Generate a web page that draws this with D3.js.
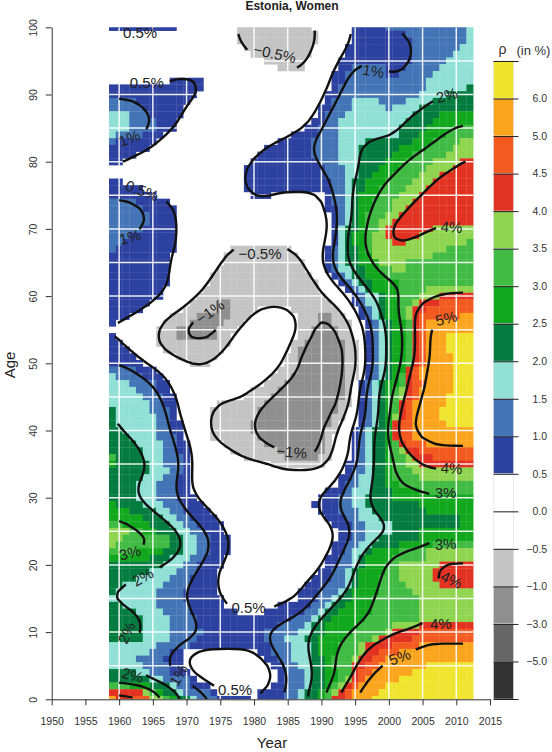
<!DOCTYPE html>
<html>
<head>
<meta charset="utf-8">
<script src="https://cdn.jsdelivr.net/npm/d3@7"></script>
<style>
  html, body { margin: 0; padding: 0; background: #fff; }
  svg { display: block; font-family: "Liberation Sans", Arial, sans-serif; }
</style>
</head>
<body>
<svg id="chart" width="552" height="752"></svg>
<script>
// band codes, lowest to highest, and their legend colours
var bandCodes = ["o", "n", "m", "l", ".", ",", "a", "b", "c", "d", "e", "f", "g", "h", "i", "j", "k"];
var bandColors = ["#333333", "#666666", "#8f8f8f", "#c4c4c4", "#ffffff", "#ffffff", "#2d41a1", "#4374b6", "#90e0d6",
                  "#057c3f", "#12a81d", "#41bb44", "#8fd550", "#e23322", "#f25a20", "#fba51e", "#efe42e"];
var legendTicks = ["−5.0", "−3.0", "−1.0", "−0.5", "0.0", "0.5", "1.0", "1.5", "2.0", "2.5", "3.0", "3.5", "4.0", "4.5", "5.0", "6.0"];

var xTicks = [1950, 1955, 1960, 1965, 1970, 1975, 1980, 1985, 1990, 1995, 2000, 2005, 2010, 2015];
var yTicks = [0, 10, 20, 30, 40, 50, 60, 70, 80, 90, 100];
var firstYear = 1959, lastYear = 2012;

// one row per age, 100 down to 0. each token is band + last year of that run (59..99, 00..12)
var bandsByAge = [
  "a68 .77 l88 .94 a99 b11 c12",
  ".77 l89 .94 a02 b11 c12",
  ".77 l89 .94 a03 b11 c12",
  ".78 l88 .93 a03 b10 c12",
  ".79 l88 .93 a03 b09 c12",
  ".81 l87 .92 a03 b08 c12",
  ".83 l87 .92 a94 b99 a02 b07 c12",
  ".91 a93 b99 a01 b06 c12",
  ".67 a72 .91 a93 b05 c12",
  "a72 .91 a92 b05 c11 d12",
  "a71 .90 a92 b04 c08 d12",
  "b62 a70 .90 a91 b94 c98 b02 c06 d12",
  "b63 a69 .89 a91 b94 c99 b00 c04 d12",
  "c61 b64 a69 .89 a90 b93 c03 d07 e12",
  "c61 b65 a68 .88 a90 b92 c02 d06 e12",
  "c61 b65 a68 .87 a89 b92 c01 d05 e09 f12",
  "c59 b63 a66 .85 a89 b92 c01 d04 e08 f12",
  "b59 a65 .83 a88 b92 c96 d03 e06 f10 g12",
  "a64 .81 a88 b92 c95 d01 e05 f09 g12",
  "a62 .80 a88 b92 c95 d00 e03 f08 g12",
  "a60 .79 a89 b92 c95 d99 e02 f06 g10 h12",
  ".78 a90 b93 c95 d98 e01 f05 g09 h12",
  ".78 a90 b93 c95 d97 e00 f04 g07 h12",
  "a60 .78 a91 b93 c94 d96 e99 f03 g06 h12",
  "a63 .78 a91 b93 c94 d96 e98 f02 g05 h12",
  "a65 .79 a82 .90 a91 b93 c94 d95 e98 f01 g04 h12",
  "b62 a67 .90 a91 b93 c94 d95 e97 f00 g03 h12",
  "b63 a68 .90 a92 b93 c94 d95 e97 f00 g02 h12",
  "b64 a68 .91 a92 b93 c94 d95 e96 f99 g01 h12",
  "b64 a68 .91 a92 b93 c94 d95 e96 f98 g00 h12",
  "b63 a68 .91 a92 b92 c93 d95 e96 f98 g99 h06 g12",
  "b61 a68 .91 a92 b92 c93 d94 e96 f97 g99 h04 g12",
  "b60 a68 .91 a92 b92 c93 d94 e96 f97 g00 h02 g11 f12",
  "b59 a68 .76 l85 .90 a91 b92 c93 d95 e96 f97 g08 f12",
  "a67 .75 l86 .90 a91 b92 c93 d95 e97 g06 f12",
  "a67 .75 l87 .90 a91 b92 c93 d95 e98 g02 f12",
  "a67 .74 l87 .90 a91 b92 c94 d96 e98 f00 g02 f12",
  "a67 .73 l88 .91 a92 b93 c94 d96 e99 f12",
  "a67 .73 l89 .92 a93 b94 c95 d97 e01 f12",
  "a66 .72 l89 .93 a94 b95 c96 d97 e01 f05 g12",
  "a66 .71 l90 .94 a95 b96 c98 d99 e01 f04 g07 h12",
  "a64 .70 l74 m76 l91 .94 a95 b96 c98 d99 e01 f03 g04 h07 i12",
  "a63 .69 l74 m76 l80 .85 l92 .95 a96 b97 c98 d99 e01 f02 g03 h05 i12",
  "a61 .67 l71 m76 l79 .86 l89 m91 l93 .95 a96 b97 c98 d99 e01 f02 g03 h04 i10 j12",
  "a59 .66 l70 m75 l78 .86 l89 m91 l94 .96 a97 b98 c99 d00 e02 f03 h04 i05 j12",
  ".65 l68 m74 l77 .86 l88 m92 l94 .96 a97 b98 c99 d00 e02 f03 h04 i05 j12",
  "a59 .65 l68 m74 l76 .86 l88 m92 l94 .96 a97 b98 c99 d00 e02 f03 h04 i05 j08 k12",
  "a60 .65 l76 .85 l87 m93 l95 .96 a97 b98 c99 d00 e02 f03 h04 i05 j08 k12",
  "a61 .66 l75 .85 l86 m93 l95 .96 a97 b98 c99 d00 e02 f03 h04 i05 j08 k12",
  "a62 .68 l74 .84 l86 m93 l95 .96 a97 b98 c99 d00 e02 f03 h04 i05 j09 k12",
  "a63 .70 l73 .84 l86 m93 l95 .96 a97 b98 c99 d00 e02 f03 h04 i05 j09 k12",
  "b62 a65 .83 l86 m93 l95 .96 a97 b98 c99 d00 e02 f02 h03 i04 j09 k12",
  "c59 b63 a66 .82 l85 m93 l95 .96 a97 b98 c99 d00 e01 f02 h03 i04 j09 k12",
  "c61 b65 a67 .81 l84 m93 l94 .95 a96 b97 c98 d99 e01 f02 h03 i05 j09 k12",
  "c62 b65 a67 .79 l83 m93 l94 .95 a96 b97 c98 d99 e00 f01 g02 h03 i04 j09 k12",
  "c63 b66 a68 .78 l82 m93 l94 .95 a96 b97 c98 d99 e00 f01 g02 h03 i04 j08 k12",
  "c64 b66 a68 .74 l81 m92 l94 .95 a96 b97 c98 d99 e00 f01 h02 i03 j08 k12",
  "d59 c64 b67 a68 .73 l80 m92 l93 .95 a96 b97 c98 d99 e00 f01 h02 i03 j07 k12",
  "d59 c65 b67 a68 .73 l80 m91 l93 .95 a96 b97 c98 d99 e00 g01 h02 i03 j07 k12",
  "d59 c65 b67 a69 .73 l79 m91 l92 .95 a96 b97 c98 d99 e00 h01 i03 j08 k12",
  "d60 c65 b67 a69 .73 l79 m90 l92 .94 a95 b96 c97 d99 e00 h01 i03 j12",
  "d61 c65 b68 a69 .73 l80 m90 l91 .94 a95 b96 c97 d99 e00 h01 i03 j12",
  "d62 c66 b68 a70 .75 l81 m90 l91 .94 a95 b96 c97 d99 e00 f01 h02 i05 j12",
  "d63 c66 b68 a70 .76 l83 m90 l91 .94 a95 b96 c97 d99 e00 f01 g02 h04 i12",
  "f59 d63 c66 b69 a70 .78 l84 m89 l91 .94 a95 b96 c97 d99 e00 f02 g03 h06 i12",
  "e59 d64 c66 b69 a70 .82 l90 .93 a95 b96 c97 d99 e00 f02 g04 h12",
  "d64 c67 b69 a70 .93 a94 b96 c97 d99 e00 f03 g12",
  "d63 c66 b68 a70 .92 a94 b95 c97 d99 e00 f04 g12",
  "d62 c65 b68 a70 .92 a93 b95 c97 d99 e01 f12",
  "d62 c65 b68 a70 .90 a93 b94 c97 d00 e04 f12",
  "d62 c65 b68 a71 .89 a92 b94 c96 d00 e12",
  "e59 d63 c66 b69 a72 .88 a92 b94 c96 d04 e12",
  "e61 d65 c67 b69 a73 .89 a92 b95 c97 d05 e12",
  "e63 d66 c68 b70 a74 .90 a93 b95 c98 d10 e12",
  "f60 e64 d67 c69 b71 a75 .91 a94 b96 c00 d10 e12",
  "g61 f63 e65 d68 c70 b72 a75 .92 a94 b96 c00 d04 e12",
  "g60 f67 d69 c71 b73 a76 .92 a94 b96 c98 d04 e12",
  "g59 f67 d69 c71 b73 a76 .91 a93 b95 c97 d01 e06 f12",
  "f62 e66 d69 c71 b73 a76 .91 a93 b94 c96 d97 e01 f05 g12",
  "e64 d67 c70 b72 a75 .90 a92 b94 c95 d96 e00 f05 g12",
  "d66 c69 b71 a75 .90 a92 b94 c95 d96 e99 f01 g07 h12",
  "d64 c68 b71 a74 .89 a91 b93 c94 d95 e99 f01 g06 h12",
  "d62 c67 b70 a74 .88 a91 b93 c94 d95 e98 f01 g06 h12",
  "d60 c66 b70 a74 .87 a90 b93 c94 d95 e98 f02 g07 h12",
  "d59 c65 b69 a74 .86 a89 b92 c93 d94 e98 f03 g12",
  "c65 b69 a75 .86 a89 b91 c92 d94 e97 f04 g12",
  "d60 c65 b70 a75 .83 a88 b90 c91 d93 e97 f04 g12",
  "d62 c66 b70 a77 .81 a87 b89 c90 d92 e97 f04 g12",
  "d63 c67 b71 a85 b88 c89 d91 e96 f04 g12",
  "d63 c67 b71 a83 b87 c88 d90 e95 f00 g04 h12",
  "d63 c67 b72 a81 b86 c88 d90 e94 f99 g00 h04 i12",
  "d63 c67 b71 a81 b84 c87 d89 e93 f97 g98 h03 i12",
  "c65 b70 a82 b85 c88 d89 e92 f95 g96 h00 i04 j12",
  "c64 b67 a69 .80 a82 b85 c88 d89 e92 f95 g96 h98 i01 j12",
  "c62 b66 a69 .81 a83 b85 c88 d90 e91 f94 g95 h97 i99 j12",
  "c63 b67 a69 .82 a84 b86 c88 d90 e91 f94 h96 i98 j05 k12",
  "d62 c64 b67 a70 .83 a84 b87 c88 d90 e92 f94 h95 i97 j03 k12",
  "d64 c66 b70 a71 .83 a84 b87 c88 d90 e92 f93 g94 h95 i96 j01 k12",
  "f61 e64 d67 c68 b70 a73 .82 a84 b87 c88 d90 e91 f92 g93 h94 i95 j99 k12",
  "h63 g64 f65 e66 d68 c69 b73 a74 .80 a84 b86 c87 d89 e90 f91 g92 h93 i94 j98 k12",
  "j59 h61 i64 g66 f67 e68 d70 c71 b74 a79 .80 a84 b86 c87 d89 e90 f91 h93 i94 j97 k12"
];

var contourLevels = [-1, -0.5, 0.5, 1, 2, 3, 4, 5];
// where each level sits on the band index scale; white cells count as 5 so both 0.5 lines fall on the cell edge
var levelIndex = { "-1": 3, "-0.5": 4.25, "0.5": 5.75, "1": 7, "2": 9, "3": 11, "4": 13, "5": 15 };

var labelTexts  = ["0.5%", "0.5%", "1%", "0.5%", "1%", "−0.5%", "1%", "2%", "4%", "−0.5%", "−1%", "−1%", "5%", "4%", "3%", "3%", "4%", "4%", "5%", "3%", "2%", "2%", "0.5%", "2%", "1%", "0.5%"];
var labelLevels = [0.5, 0.5, 1, 0.5, 1, -0.5, 1, 2, 4, -0.5, -1, -1, 5, 4, 3, 3, 4, 4, 5, 3, 2, 2, 0.5, 2, 1, 0.5];
var labelYears  = [1963.1, 1964.1, 1961.5, 1963.4, 1961.6, 1983.1, 1997.7, 2008.6, 2009.3, 1980.9, 1973.5, 1985.6, 2008.5, 2009.3, 2008.4, 2008.4, 2009.3, 2007.7, 2001.6, 1961.6, 1963.5, 1961.1, 1979.2, 1962, 1968.8, 1977.2];
var labelAges   = [99.2, 91.7, 83.5, 75.7, 68.8, 96.1, 93.5, 89.9, 70.3, 66.3, 57.7, 36.8, 56.7, 34.4, 30.7, 23.1, 17.8, 11.2, 6.3, 21.8, 18.2, 9.9, 13.7, 3.6, 3.6, 1.4];
var labelAngles = [0, 0, -20, 20, -15, 12, 10, -15, 3, 0, -35, 5, -15, 3, 0, -3, 25, 0, -20, -15, -30, -65, 0, 15, -60, 0];

function expandRow(str) {
    var out = [], y = firstYear;
    str.split(" ").forEach(function (tok) {
        var last = +tok.slice(1);
        last += last < 50 ? 2000 : 1900;
        while (y <= last) { out.push(tok[0]); y++; }
    });
    while (y <= lastYear) { out.push("."); y++; }
    return out;
}

var svg = d3.select("#chart");
var x = d3.scaleLinear().domain([1950, 2015]).range([51.7, 490]);
var y = d3.scaleLinear().domain([0, 100]).range([699.3, 27.3]);

var cols = lastYear - firstYear + 1, nRows = bandsByAge.length;
var colorOf = d3.scaleOrdinal().domain(bandCodes).range(bandColors);

// cells
var cells = [];
bandsByAge.forEach(function (row, j) {
    expandRow(row).forEach(function (band, i) {
        if (band != ".") cells.push({ year: firstYear + i, age: 100 - j, band: band });
    });
});

svg.append("defs").append("clipPath").attr("id", "plotclip").append("rect")
    .attr("x", x(1950)).attr("y", y(100)).attr("width", x(2015) - x(1950)).attr("height", y(0) - y(100));

var plot = svg.append("g").attr("clip-path", "url(#plotclip)");

plot.append("g").selectAll("rect").data(cells).enter().append("rect")
    .attr("x", function (d) { return x(d.year - 0.5); })
    .attr("y", function (d) { return y(d.age + 0.5); })
    .attr("width", x(1) - x(0) + 0.3)
    .attr("height", y(0) - y(1) + 0.3)
    .attr("fill", function (d) { return colorOf(d.band); });

// white grid, only over the data block
var gridYears = xTicks.filter(function (v) { return v >= 1960 && v <= 2010; });
var gridAges = d3.range(5, 100, 5);
plot.append("g").selectAll("line").data(gridYears).enter().append("line")
    .attr("x1", x).attr("x2", x).attr("y1", y(0)).attr("y2", y(100))
    .attr("stroke", "#fff").attr("stroke-opacity", 0.9).attr("stroke-width", 1.5);
plot.append("g").selectAll("line").data(gridAges).enter().append("line")
    .attr("x1", x(firstYear - 0.5)).attr("x2", x(lastYear + 0.5)).attr("y1", y).attr("y2", y)
    .attr("stroke", "#fff").attr("stroke-opacity", 0.9).attr("stroke-width", 1.5);

// contours from the same grid, on the band index scale (blurred so the lines run smooth)
var field = [];
bandsByAge.forEach(function (row) {
    expandRow(row).forEach(function (band) { field.push(band == "." ? 5 : bandCodes.indexOf(band) + 0.5); });
});
d3.blur2({ data: field, width: cols, height: nRows }, 1);

var gridX = function (g) { return x(firstYear - 0.5 + g); };
var gridY = function (g) { return y(100.5 - g); };
var line = d3.line().curve(d3.curveBasis)
    .x(function (p) { return gridX(p[0]); })
    .y(function (p) { return gridY(p[1]); });

function nearLabel(p, level) {
    var px = gridX(p[0]), py = gridY(p[1]);
    return labelTexts.some(function (t, k) {
        if (labelLevels[k] != level) return false;
        var r = t.length * 4.6 + 3;
        return Math.hypot(px - x(labelYears[k]), py - y(labelAges[k])) < r;
    });
}

function openSegments(ring, level) {
    // rings close along the block border and through labels: cut them there
    var segs = [], cur = [];
    var inside = function (p) {
        return p[0] > 0.5 && p[0] < cols - 0.5 && p[1] > 0.5 && p[1] < nRows - 0.5 && !nearLabel(p, level);
    };
    ring.forEach(function (p) {
        if (inside(p)) cur.push(p);
        else { if (cur.length > 2) segs.push(cur); cur = []; }
    });
    if (cur.length > 2) segs.push(cur);
    // join the tail onto the head when the ring start is not a cut
    if (segs.length > 1 && inside(ring[0]) && inside(ring[ring.length - 1])) {
        var head = segs.shift();
        segs[segs.length - 1] = segs[segs.length - 1].concat(head);
    }
    return segs;
}

var contourGen = d3.contours().size([cols, nRows]).thresholds(contourLevels.map(function (l) { return levelIndex[l]; }));
var contourData = contourGen(field);
var contourG = plot.append("g");
contourData.forEach(function (c, k) {
    c.coordinates.forEach(function (poly) {
        poly.forEach(function (ring) {
            openSegments(ring, contourLevels[k]).forEach(function (seg) {
                contourG.append("path")
                    .attr("d", line(seg))
                    .attr("fill", "none")
                    .attr("stroke", "#111")
                    .attr("stroke-width", 2.4);
            });
        });
    });
});

// contour labels
plot.append("g").selectAll("text").data(labelTexts).enter().append("text")
    .attr("transform", function (d, i) {
        return "translate(" + x(labelYears[i]) + "," + y(labelAges[i]) + ") rotate(" + labelAngles[i] + ")";
    })
    .attr("text-anchor", "middle")
    .attr("dy", "0.36em")
    .attr("font-size", 15)
    .attr("fill", "#222")
    .text(function (d) { return d; });

// axes
var xAxis = d3.axisBottom(x).tickValues(xTicks).tickFormat(d3.format("d")).tickSize(6).tickSizeOuter(0);
var gx = svg.append("g").attr("transform", "translate(0," + y(0) + ")").call(xAxis);
gx.attr("font-family", null);
gx.selectAll("text").attr("font-size", 10.5).attr("fill", "#333").attr("dy", "1.55em");
gx.selectAll("path, line").attr("stroke", "#333").attr("stroke-width", 1);

var yAxis = d3.axisLeft(y).tickValues(yTicks).tickSize(6).tickSizeOuter(0);
var gy = svg.append("g").attr("transform", "translate(" + x(1950) + ",0)").call(yAxis);
gy.attr("font-family", null);
gy.selectAll("text")
    .attr("font-size", 10.5).attr("fill", "#333")
    .attr("transform", "rotate(-90)")
    .attr("text-anchor", "middle")
    .attr("x", 0)
    .attr("y", -15)
    .attr("dy", 0);
gy.selectAll("path, line").attr("stroke", "#333").attr("stroke-width", 1);

svg.append("text").attr("x", 292).attr("y", 10).attr("text-anchor", "middle")
    .attr("font-size", 12).attr("font-weight", "bold").attr("fill", "#222").text("Estonia, Women");
svg.append("text").attr("x", 272).attr("y", 748).attr("text-anchor", "middle")
    .attr("font-size", 15).attr("fill", "#222").text("Year");
svg.append("text").attr("transform", "translate(15,365) rotate(-90)").attr("text-anchor", "middle")
    .attr("font-size", 15).attr("fill", "#222").text("Age");

// colour key: 17 equal boxes, highest on top
var legendBands = bandCodes.slice().reverse();
var ly = d3.scaleBand().domain(legendBands).range([61, 699]);
var legend = svg.append("g");
legend.selectAll("rect").data(legendBands).enter().append("rect")
    .attr("x", 493.5).attr("width", 20)
    .attr("y", function (d) { return ly(d); })
    .attr("height", ly.bandwidth())
    .attr("fill", function (d) { return colorOf(d); })
    .attr("stroke", "#ddd").attr("stroke-width", 0.6);

var keyPos = d3.scaleLinear().domain([0, 17]).range([699, 61]);
var keyAxis = d3.axisRight(keyPos)
    .tickValues(d3.range(0, 18)).tickSize(25).tickFormat("").tickSizeOuter(0);
var gk = svg.append("g").attr("transform", "translate(493.5,0)").call(keyAxis);
gk.select("path").remove();
gk.selectAll("line").attr("stroke", "#222").attr("stroke-width", 1);

legend.selectAll("text.keylab").data(legendTicks).enter().append("text")
    .attr("class", "keylab")
    .attr("x", 547).attr("text-anchor", "end")
    .attr("y", function (d, i) { return keyPos(i + 1); })
    .attr("dy", "0.36em")
    .attr("font-size", 10.5).attr("fill", "#333")
    .text(function (d) { return d; });

svg.append("text").attr("x", 502.5).attr("y", 54).attr("text-anchor", "middle")
    .attr("font-size", 14).attr("fill", "#333").text("ρ");
svg.append("text").attr("x", 516.5).attr("y", 55)
    .attr("font-size", 13).attr("fill", "#333").text("(in %)");
</script>
</body>
</html>
